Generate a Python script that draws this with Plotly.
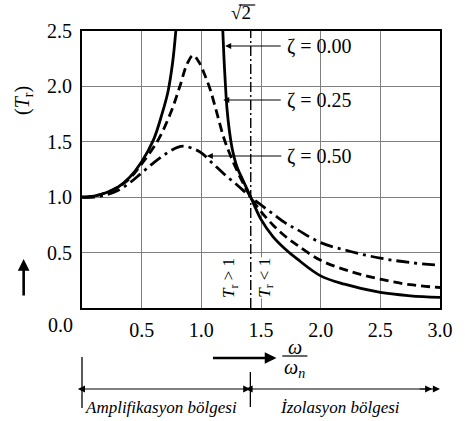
import plotly.graph_objects as go

# ---------------- data ----------------
ratio_z0 = [0.0, 0.1, 0.2, 0.3, 0.4, 0.5, 0.6, 0.67, 0.72, 0.76, 0.79, None,
            1.178, 1.19, 1.2, 1.215, 1.235, 1.26, 1.3, 1.35, 1.414, 1.5, 1.6, 1.7, 1.8,
            2.0, 2.2, 2.5, 2.75, 3.0]
tr_z0 = [1.00, 1.01, 1.04, 1.09, 1.18, 1.32, 1.52, 1.75, 1.95, 2.22, 2.55, None,
         2.55, 2.25, 2.05, 1.8, 1.6, 1.43, 1.27, 1.15, 1.0, 0.80, 0.645, 0.535, 0.445,
         0.29, 0.215, 0.14, 0.11, 0.095]

ratio_z25 = [0.0, 0.1, 0.2, 0.3, 0.4, 0.5, 0.6, 0.66, 0.75, 0.82, 0.88, 0.93, 0.98,
             1.03, 1.075, 1.13, 1.19, 1.25, 1.33, 1.414, 1.5, 1.6, 1.7, 1.8, 2.0,
             2.25, 2.5, 2.75, 3.0]
tr_z25 = [1.0, 1.01, 1.04, 1.09, 1.17, 1.30, 1.45, 1.56, 1.78, 2.0, 2.2, 2.28, 2.22,
          2.10, 1.97, 1.76, 1.53, 1.36, 1.17, 1.0, 0.87, 0.75, 0.65, 0.57, 0.43,
          0.33, 0.26, 0.21, 0.185]

ratio_z50 = [0.0, 0.1, 0.2, 0.3, 0.4, 0.5, 0.6, 0.7, 0.8, 0.86, 0.95, 1.0, 1.1, 1.2,
             1.3, 1.414, 1.5, 1.6, 1.7, 1.8, 2.0, 2.25, 2.5, 2.75, 3.0]
tr_z50 = [1.0, 1.0, 1.02, 1.06, 1.13, 1.22, 1.31, 1.39, 1.45, 1.46, 1.43, 1.40, 1.30,
          1.20, 1.11, 1.0, 0.93, 0.85, 0.77, 0.71, 0.59, 0.51, 0.45, 0.41, 0.385]

x_ticks = [0.5, 1.0, 1.5, 2.0, 2.5, 3.0]
x_tick_labels = ["0.5", "1.0", "1.5", "2.0", "2.5", "3.0"]
y_ticks = [0.5, 1.0, 1.5, 2.0, 2.5]
y_tick_labels = ["0.5", "1.0", "1.5", "2.0", "2.5"]
zeta_labels = ["ζ = 0.00", "ζ = 0.25", "ζ = 0.50"]
sqrt2 = 1.414

FONT = "Liberation Serif"
W, H = 465, 421
L, R, T, B = 82, 13, 31, 113
PW, PH = W - L - R, H - T - B


def P(px, py):
    """window pixel -> paper coordinates"""
    return (px - L) / PW, (H - B - py) / PH


fig = go.Figure()
common = dict(mode="lines", line_shape="spline", hoverinfo="skip")
fig.add_trace(go.Scatter(x=ratio_z0, y=tr_z0, line=dict(color="black", width=2.8),
                         connectgaps=False, **common))
fig.add_trace(go.Scatter(x=ratio_z25, y=tr_z25,
                         line=dict(color="black", width=2.8, dash="9px,5px"), **common))
fig.add_trace(go.Scatter(x=ratio_z50, y=tr_z50,
                         line=dict(color="black", width=2.8, dash="13px,5px,3px,5px"), **common))

shapes = []
shapes.append(dict(type="line", xref="x", yref="y", x0=sqrt2, x1=sqrt2, y0=0, y1=2.5,
                   line=dict(color="black", width=1.4, dash="10px,3px,2px,3px")))


def pline(x0, y0, x1, y1, w=1.3):
    a = P(x0, y0)
    b = P(x1, y1)
    shapes.append(dict(type="line", xref="paper", yref="paper", x0=a[0], y0=a[1],
                       x1=b[0], y1=b[1], line=dict(color="black", width=w)))


pline(82, 357, 82, 408)
pline(256, 372, 256, 407)
pline(289, 356, 315, 356, 1.2)   # fraction bar
pline(244, 5, 261, 5, 1.2)        # overbar of sqrt(2)

ann = []


def text(px, py, s, size=20, xanchor="center", angle=0, italic=False, bg=None):
    x, y = P(px, py)
    d = dict(xref="paper", yref="paper", x=x, y=y, text=(f"<i>{s}</i>" if italic else s),
             showarrow=False, xanchor=xanchor, yanchor="middle", textangle=angle,
             font=dict(family=FONT, size=size, color="black"))
    if bg:
        d["bgcolor"] = bg
        d["borderpad"] = 0
    ann.append(d)


def arrow(hx, hy, tx, ty, w=1.0, size=1.0, side="end", head=2):
    x, y = P(hx, hy)
    ann.append(dict(xref="paper", yref="paper", x=x, y=y, ax=tx - hx, ay=ty - hy,
                    text="", showarrow=True, arrowhead=head, arrowsize=size,
                    arrowwidth=w, arrowcolor="black", arrowside=side, startarrowhead=head,
                    startarrowsize=size))


text(60, 325, "0.0")
text(246, 13, "√2", size=19)
for (lbl, ty, hx) in zip(zeta_labels, [46, 100, 156], [230, 228, 211]):
    text(292, ty, lbl, size=20, xanchor="left")
    arrow(hx, ty, 287, ty, w=1.0, size=1.2)

text(21, 100, "(<i>T</i><sub>r</sub>)", size=20, angle=-90)
arrow(21.7, 259, 21.7, 297, w=2.6, size=0.9)

text(235, 278, "<i>T</i><sub>r</sub> > 1", size=17, angle=-90)
text(272, 278, "<i>T</i><sub>r</sub> < 1", size=17, angle=-90, bg="white")

arrow(283, 358, 218, 358, w=2.6, size=0.9)
text(302, 347, "ω", size=20, italic=True)
text(302, 368, "ω<sub>n</sub>", size=20, italic=True)

arrow(256, 389, 82, 389, w=1.1, size=1.3, side="end+start")
arrow(452, 389, 256, 389, w=1.1, size=1.3, side="end+start")
arrow(444, 389, 430, 389, w=1.1, size=1.3)
text(164, 407, "Amplifikasyon bölgesi", size=17, italic=True)
text(349, 407, "İzolasyon bölgesi", size=17, italic=True)

axis_common = dict(showgrid=True, gridcolor="#808080", gridwidth=1, showline=True,
                   linecolor="black", linewidth=2, mirror=True, ticks="", zeroline=False,
                   tickfont=dict(family=FONT, size=20, color="black"))
fig.update_layout(
    width=W, height=H, margin=dict(l=L, r=R, t=T, b=B),
    plot_bgcolor="white", paper_bgcolor="white", showlegend=False,
    font=dict(family=FONT, size=20, color="black"),
    xaxis=dict(range=[0, 3], tickvals=x_ticks, ticktext=x_tick_labels,
               ticklabelstandoff=3, **axis_common),
    yaxis=dict(range=[0, 2.5], tickvals=y_ticks, ticktext=y_tick_labels,
               ticklabelstandoff=4, **axis_common),
    shapes=shapes, annotations=ann,
)
fig.write_html("out.html",
               config={"displayModeBar": False, "staticPlot": True},
               post_script="document.body.style.margin='0';"
                           "document.documentElement.style.overflow='hidden';")
